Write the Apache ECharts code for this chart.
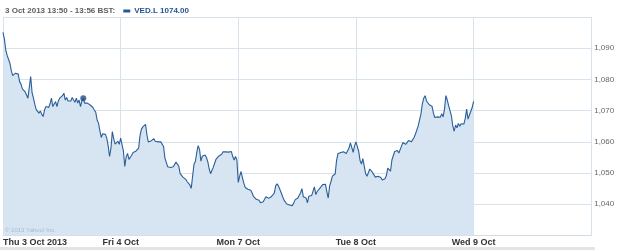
<!DOCTYPE html>
<html>
<head>
<meta charset="utf-8">
<script src="https://cdn.jsdelivr.net/npm/echarts@6/dist/echarts.min.js"></script>
<style>html,body{margin:0;padding:0;background:#fff}#c{width:620px;height:250px}</style>
</head>
<body>
<div id="c"></div>
<script>
// Day tick labels (one trading session per tick)
const dayLabels = ['Thu 3 Oct 2013', 'Fri 4 Oct', 'Mon 7 Oct', 'Tue 8 Oct', 'Wed 9 Oct'];
// Price tick labels shown on the right axis
const yTicks = [1040, 1050, 1060, 1070, 1080, 1090];
// 6-minute samples, 08:00 - 16:30 (86 per session)
const thu = [1095.1,1093.0,1089.5,1087.7,1088.1,1085.2,1082.8,1081.2,1080.9,1082.0,
  1081.5,1081.7,1079.3,1078.5,1077.0,1076.6,1076.0,1075.0,1074.0,1073.4,
  1080.9,1075.8,1074.0,1072.0,1070.3,1070.8,1069.2,1069.9,1068.8,1068.1,
  1070.2,1071.3,1070.8,1071.0,1072.2,1074.0,1071.3,1071.8,1072.9,1071.3,
  1073.1,1074.0,1074.5,1074.8,1075.6,1073.4,1074.2,1073.1,1073.4,1073.1,
  1074.2,1073.4,1072.7,1074.0,1072.4,1073.4,1071.3,1073.1,1074.0,1072.4,
  1072.9,1072.4,1072.7,1071.8,1071.3,1071.0,1070.2,1069.5,1067.0,1066.0,
  1063.5,1061.4,1062.6,1063.1,1062.4,1061.1,1058.7,1055.3,1058.0,1063.3,
  1061.0,1059.3,1058.8,1060.2,1059.2,1061.2];
const fri = [1061.8,1061.0,1057.0,1052.1,1055.2,1056.3,1054.4,1053.8,1055.7,1056.6,
  1057.0,1057.0,1056.6,1058.0,1062.0,1064.0,1064.8,1064.5,1065.6,1062.2,
  1060.0,1060.0,1060.3,1060.9,1061.0,1060.2,1059.7,1060.0,1060.0,1060.0,
  1059.8,1058.5,1054.8,1053.4,1052.0,1051.4,1051.8,1051.7,1052.0,1052.1,
  1053.5,1053.9,1052.2,1049.8,1049.8,1048.7,1048.9,1048.0,1047.3,1046.7,
  1046.2,1045.1,1049.0,1052.8,1053.7,1056.6,1058.8,1057.6,1053.8,1055.4,
  1056.0,1055.8,1055.0,1053.6,1051.3,1049.8,1050.9,1051.9,1053.3,1054.5,
  1055.0,1055.5,1056.0,1056.0,1056.8,1056.5,1056.8,1056.9,1056.7,1056.3,
  1056.9,1055.3,1054.2,1055.3,1054.2,1054.7];
const mon = [1047.0,1049.0,1050.5,1048.5,1046.8,1045.4,1045.7,1044.8,1044.9,1044.5,
  1043.6,1042.5,1042.0,1041.6,1041.6,1041.3,1040.5,1040.0,1040.8,1041.6,
  1042.4,1042.1,1041.9,1042.1,1042.5,1042.8,1043.6,1045.9,1046.6,1045.9,
  1044.8,1043.7,1042.5,1041.4,1040.8,1040.1,1039.9,1039.8,1039.5,1039.5,
  1040.3,1041.4,1042.0,1042.0,1042.6,1043.7,1045.0,1042.4,1042.3,1042.0,
  1040.5,1042.6,1043.0,1042.8,1043.0,1045.6,1043.1,1044.1,1044.7,1045.2,
  1045.8,1046.3,1046.8,1046.4,1044.0,1042.0,1045.9,1047.3,1049.0,1048.9,
  1049.7,1054.0,1056.2,1056.3,1056.6,1056.3,1056.8,1056.3,1056.3,1056.3,
  1058.0,1059.7,1058.2,1056.6,1058.7,1060.0];
const tue = [1060.0,1059.8,1057.0,1054.0,1052.9,1054.6,1054.0,1049.8,1049.0,1050.1,
  1051.3,1051.3,1050.2,1049.9,1048.7,1049.2,1049.0,1048.4,1048.6,1047.8,
  1048.2,1048.2,1049.2,1051.6,1051.5,1050.6,1054.2,1054.8,1056.9,1056.4,
  1057.2,1056.4,1056.0,1058.7,1059.8,1059.4,1059.2,1058.6,1060.4,1060.6,
  1060.0,1060.4,1061.4,1062.5,1063.8,1065.1,1065.6,1069.0,1072.2,1074.0,
  1074.8,1073.1,1072.6,1071.9,1072.3,1071.4,1069.2,1067.8,1067.2,1068.0,
  1068.2,1067.9,1069.0,1068.0,1070.5,1074.8,1073.4,1071.6,1071.7,1068.3,
  1065.1,1063.4,1065.4,1064.5,1065.9,1065.0,1065.8,1066.3,1065.7,1067.5,
  1070.5,1067.3,1068.6,1069.8,1071.0,1073.0];
const sessions = [thu, fri, mon, tue];
// Highlighted sample: Thu 13:50 (session 0, sample 58)
const markerSession = 0, markerIndex = 58;
const headerText = '3 Oct 2013 13:50 - 13:56 BST:';
const seriesName = 'VED.L';

const FONT = '"Liberation Sans", Arial, sans-serif';
const lineData = [];
sessions.forEach((arr, d) => arr.forEach((v, i) => lineData.push([d + i / (arr.length - 1), v])));
const mArr = sessions[markerSession];
const markerPt = [markerSession + markerIndex / (mArr.length - 1), mArr[markerIndex]];

const chart = echarts.init(document.getElementById('c'), null, {renderer: 'canvas'});
chart.setOption({
  animation: false,
  backgroundColor: '#fff',
  title: {
    left: 5, top: 2, padding: 0,
    text: '{a|' + headerText + '}{g|}{sq|}{g2|}{b|' + seriesName + ' ' + markerPt[1].toFixed(2) + '}',
    textStyle: {
      rich: {
        a: {fontFamily: FONT, fontSize: 8, fontWeight: 'bold', color: '#5e5e5e', lineHeight: 10},
        g: {width: 8},
        sq: {width: 7, height: 3, backgroundColor: '#2a5a94'},
        g2: {width: 4},
        b: {fontFamily: FONT, fontSize: 8, fontWeight: 'bold', color: '#24548e', lineHeight: 10}
      }
    }
  },
  grid: {left: 2.7, right: 28.8, top: 17, bottom: 14.5, containLabel: false},
  xAxis: {
    type: 'value', min: 0, max: 5, interval: 1,
    axisLine: {show: true, lineStyle: {color: '#d3dde6', width: 1}},
    axisTick: {show: false},
    splitLine: {show: true, lineStyle: {color: '#d8e2eb', width: 1}},
    axisLabel: {
      show: true, margin: 3, fontFamily: FONT, fontSize: 9, fontWeight: 'bold', color: '#333',
      alignMinLabel: 'left',
      formatter: v => dayLabels[v] || ''
    }
  },
  yAxis: {
    type: 'value', position: 'right', min: 1030, max: 1100, interval: 10,
    axisLine: {show: false}, axisTick: {show: false},
    splitLine: {show: true, lineStyle: {color: '#d8e2eb', width: 1}},
    axisLabel: {
      margin: 3, fontFamily: FONT, fontSize: 8, color: '#666',
      formatter: v => yTicks.includes(v) ? v.toLocaleString('en-US') : ''
    }
  },
  series: [
    {
      type: 'line', data: lineData, showSymbol: false, symbol: 'none',
      lineStyle: {color: '#2b5e98', width: 1.1},
      areaStyle: {color: '#d6e5f1', opacity: 1, origin: 'start'},
      z: 2
    },
    {
      type: 'scatter', data: [markerPt], symbol: 'circle', symbolSize: 6,
      itemStyle: {color: '#1f4e8a'}, z: 5
    }
  ],
  graphic: [
    {type: 'text', left: 5, top: 227, style: {text: '\u00a9 2013 Yahoo! Inc.', font: '6px ' + FONT, fill: '#a8bccd'}, z: 10},
    {type: 'rect', shape: {x: 0, y: 247, width: 595, height: 3}, style: {fill: '#e4e4e4'}, z: 10}
  ]
});
</script>
</body>
</html>
